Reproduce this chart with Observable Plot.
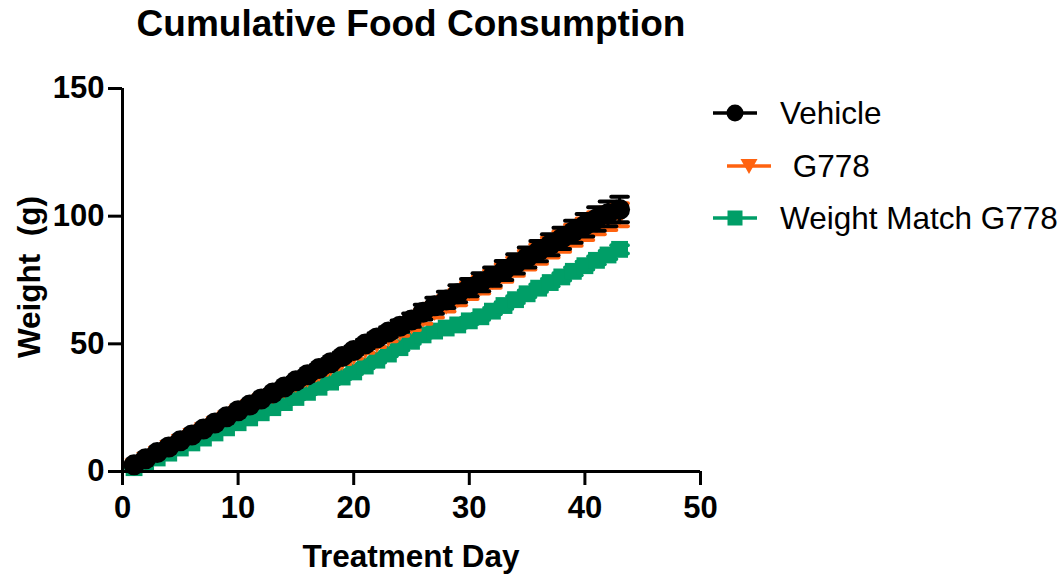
<!DOCTYPE html>
<html>
<head>
<meta charset="utf-8">
<script src="https://cdn.jsdelivr.net/npm/d3@7"></script>
<script src="https://cdn.jsdelivr.net/npm/@observablehq/plot@0.6"></script>
<style>
  html, body { margin: 0; padding: 0; background: #fff; }
  #wrap { position: relative; width: 1064px; height: 577px; overflow: hidden; font-family: "Liberation Sans", Arial, sans-serif; color: #000; }
  #chart { position: absolute; left: 0; top: 0; }
  #chart svg text { font-weight: bold; }
  .title { position: absolute; left: 0; width: 822px; top: 2px; text-align: center; font-weight: bold; font-size: 37px; line-height: 44px; }
  .xlab { position: absolute; left: 0; width: 822px; top: 536px; text-align: center; font-weight: bold; font-size: 31.5px; line-height: 40px; }
  .ylab { position: absolute; left: 29px; top: 277px; transform: translate(-50%, -50%) rotate(-90deg); white-space: pre; font-weight: bold; font-size: 31.5px; line-height: 36px; }
  .leg { position: absolute; left: 0; white-space: pre; font-size: 31.5px; line-height: 36px; height: 36px; }
  .leg svg { position: absolute; top: 0; }
  .leg span { position: absolute; top: 0; }
</style>
</head>
<body>
<div id="wrap">
  <div id="chart"></div>
  <div class="title">Cumulative Food Consumption</div>
  <div class="xlab">Treatment Day</div>
  <div class="ylab">Weight  (g)</div>
  <div id="legend"></div>
</div>
<script>
// ---- data ----
const days = [1,2,3,4,5,6,7,8,9,10,11,12,13,14,15,16,17,18,19,20,21,22,23,24,25,26,27,28,29,30,31,32,33,34,35,36,37,38,39,40,41,42,43];

const vehicle = [2.6,5.0,7.4,9.6,12.0,14.3,16.6,19.0,21.4,23.8,26.0,28.4,30.7,33.1,35.5,37.9,40.3,42.6,45.0,47.4,49.9,52.3,54.6,56.9,59.3,62.4,64.9,67.2,69.6,72.0,74.1,76.3,78.7,81.3,83.8,86.3,88.8,91.3,93.9,96.4,98.9,100.9,102.6];
const vehicleErr = [0.3,0.4,0.5,0.5,0.6,0.7,0.8,0.8,0.9,1.0,1.0,1.1,1.2,1.2,1.3,1.4,1.4,1.5,1.6,1.6,1.7,1.8,1.9,2.2,2.6,2.9,3.1,3.2,3.3,3.4,3.5,3.6,3.7,3.8,3.9,4.0,4.1,4.2,4.3,4.4,4.6,4.8,5.0];

const g778 = [3.0,5.5,7.9,10.2,12.6,14.9,17.2,19.5,21.8,24.1,26.3,28.5,30.6,32.8,35.0,37.1,39.3,41.5,43.7,45.9,48.2,50.6,52.9,55.3,57.8,60.6,63.2,65.7,68.2,70.8,73.0,75.4,77.8,80.3,82.8,85.2,87.7,90.1,92.5,94.9,97.2,99.0,100.6];
const g778Err = [0.3,0.4,0.5,0.5,0.6,0.7,0.8,0.8,0.9,1.0,1.0,1.1,1.2,1.2,1.3,1.4,1.4,1.5,1.6,1.6,1.7,1.8,1.9,2.1,2.4,2.7,2.9,3.0,3.1,3.2,3.3,3.4,3.5,3.6,3.7,3.8,3.9,4.0,4.1,4.2,4.3,4.4,4.5];

const weightMatch = [1.5,3.4,5.3,7.2,9.2,11.2,13.1,15.1,17.1,19.1,21.0,23.0,25.0,27.0,29.0,31.0,33.0,35.0,37.0,39.0,41.3,43.6,46.0,48.5,51.0,53.5,55.0,56.2,57.4,59.0,60.6,62.8,65.0,67.3,69.6,71.8,74.0,76.2,78.4,80.6,82.7,84.8,87.0];
const weightMatchErr = [0.2,0.2,0.3,0.3,0.3,0.4,0.4,0.4,0.5,0.5,0.5,0.6,0.6,0.6,0.7,0.7,0.7,0.8,0.8,0.8,0.9,0.9,0.9,1.0,1.0,1.0,1.1,1.1,1.1,1.2,1.2,1.2,1.3,1.3,1.3,1.4,1.4,1.4,1.5,1.5,1.5,1.6,1.6];

const seriesNames = ["Vehicle", " G778", "Weight Match G778"];
const seriesColors = ["#000000", "#FF620F", "#009E67"];
const xTicks = [0, 10, 20, 30, 40, 50];
const yTicks = [0, 50, 100, 150];

// ---- build table ----
const rows = (name, vals, errs) => days.map((d, i) => ({series: name, day: d, value: vals[i], err: errs[i]}));
const vData = rows("Vehicle", vehicle, vehicleErr);
const gData = rows("G778", g778, g778Err);
const wData = rows("Weight Match G778", weightMatch, weightMatchErr);

const capHalf = 0.72;
function seriesMarks(data, color, dotOpts) {
  return [
    Plot.ruleX(data, {x: "day", y1: d => d.value - d.err, y2: d => d.value + d.err, stroke: color, strokeWidth: 3}),
    Plot.link(data, {x1: d => d.day - capHalf, x2: d => d.day + capHalf, y1: d => d.value + d.err, y2: d => d.value + d.err, stroke: color, strokeWidth: 4, strokeLinecap: "round"}),
    Plot.link(data, {x1: d => d.day - capHalf, x2: d => d.day + capHalf, y1: d => d.value - d.err, y2: d => d.value - d.err, stroke: color, strokeWidth: 4, strokeLinecap: "round"}),
    Plot.line(data, {x: "day", y: "value", stroke: color, strokeWidth: 3}),
    Plot.dot(data, {x: "day", y: "value", fill: color, stroke: null, ...dotOpts})
  ];
}

const chart = Plot.plot({
  width: 1064,
  height: 577,
  marginLeft: 122,
  marginRight: 364,
  marginTop: 88,
  marginBottom: 106,
  style: {fontFamily: "'Liberation Sans', Arial, sans-serif", fontSize: "31px", color: "#000", background: "transparent", overflow: "visible"},
  x: {domain: [0, 50]},
  y: {domain: [0, 150]},
  marks: [
    ...seriesMarks(wData, seriesColors[2], {symbol: "square", r: 9.5}),
    ...seriesMarks(gData, seriesColors[1], {symbol: "triangle", r: 7, rotate: 180}),
    ...seriesMarks(vData, seriesColors[0], {symbol: "circle", r: 10.5}),
    Plot.ruleX([0], {stroke: "#000", strokeWidth: 3}),
    Plot.ruleY([0], {stroke: "#000", strokeWidth: 3}),
    Plot.axisX({ticks: xTicks, tickSize: 14, tickPadding: 10, strokeWidth: 3, fontSize: 31, fontWeight: "bold", label: null, tickFormat: d => d}),
    Plot.axisY({ticks: yTicks, tickSize: 14, tickPadding: 4, strokeWidth: 3, fontSize: 31, fontWeight: "bold", label: null, tickFormat: d => d})
  ]
});
document.getElementById("chart").appendChild(chart);

// ---- legend ----
const legendRows = [
  {name: seriesNames[0], color: seriesColors[0], cy: 113, lineX: 713, textX: 780, sym: "circle"},
  {name: seriesNames[1], color: seriesColors[1], cy: 166, lineX: 727, textX: 784, sym: "triangle"},
  {name: seriesNames[2], color: seriesColors[2], cy: 218, lineX: 713, textX: 780, sym: "square"}
];
const legend = document.getElementById("legend");
for (const r of legendRows) {
  const div = document.createElement("div");
  div.className = "leg";
  div.style.top = (r.cy - 18) + "px";
  const w = 44;
  let shape;
  if (r.sym === "circle") shape = `<circle cx="${w/2}" cy="18" r="8.5" fill="${r.color}"/>`;
  else if (r.sym === "square") shape = `<rect x="${w/2-7.5}" y="10.5" width="15" height="15" fill="${r.color}"/>`;
  else shape = `<path d="M${w/2-8.5},11 L${w/2+8.5},11 L${w/2},26 Z" fill="${r.color}"/>`;
  div.innerHTML = `<svg width="${w}" height="36" style="left:${r.lineX}px"><line x1="0" x2="${w}" y1="18" y2="18" stroke="${r.color}" stroke-width="3.5" stroke-linecap="round"/>${shape}</svg><span style="left:${r.textX}px">${r.name}</span>`;
  legend.appendChild(div);
}
</script>
</body>
</html>
